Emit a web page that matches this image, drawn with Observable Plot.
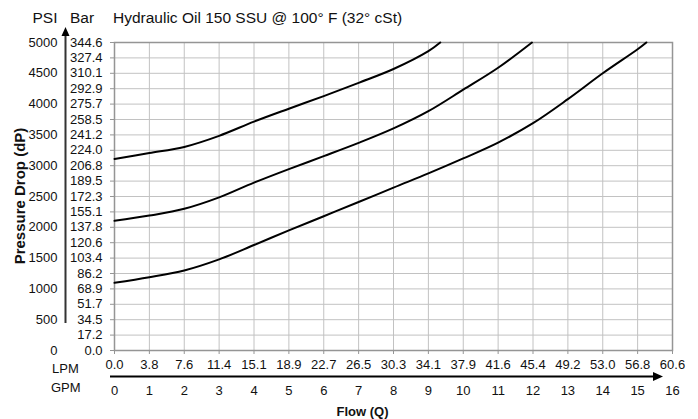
<!DOCTYPE html>
<html><head><meta charset="utf-8">
<script src="https://cdn.jsdelivr.net/npm/d3@7"></script>
<script src="https://cdn.jsdelivr.net/npm/@observablehq/plot@0.6"></script>
<style>
html,body{margin:0;padding:0;background:#fff;}
svg text{font-family:"Liberation Sans",Arial,sans-serif;}
</style>
</head><body><div id="chart"></div>
<script>
// ---- data ----
const titleText = "Hydraulic Oil 150 SSU @ 100° F (32° cSt)";
const yTitle = "Pressure Drop (dP)";
const xTitle = "Flow (Q)";
const gpmTicks = d3.range(0, 17);
const lpmLabels = ["0.0","3.8","7.6","11.4","15.1","18.9","22.7","26.5","30.3","34.1","37.9","41.6","45.4","49.2","53.0","56.8","60.6"];
const psiTicks = d3.range(0, 5001, 500);
const psiGrid = d3.range(0, 5001, 250);
const barLabels = ["0.0","17.2","34.5","51.7","68.9","86.2","103.4","120.6","137.8","155.1","172.3","189.5","206.8","224.0","241.2","258.5","275.7","292.9","310.1","327.4","344.6"];

const highGpm = [0, 1, 2, 3, 4, 5, 6, 7, 8, 9, 9.34];
const highPsi = [3110, 3205, 3305, 3485, 3715, 3925, 4130, 4345, 4570, 4860, 5000];
const midGpm = [0, 1, 2, 3, 4, 5, 6, 7, 8, 9, 10, 11, 11.97];
const midPsi = [2105, 2190, 2300, 2485, 2725, 2945, 3155, 3370, 3605, 3885, 4234, 4590, 5000];
const lowGpm = [0, 1, 2, 3, 4, 5, 6, 7, 8, 9, 10, 11, 12, 13, 14, 15, 15.25];
const lowPsi = [1100, 1190, 1300, 1480, 1712, 1950, 2180, 2410, 2645, 2875, 3118, 3375, 3690, 4080, 4500, 4890, 5000];

const rows = [
  ...highGpm.map((g, i) => ({series: "high", gpm: g, psi: highPsi[i]})),
  ...midGpm.map((g, i) => ({series: "mid", gpm: g, psi: midPsi[i]})),
  ...lowGpm.map((g, i) => ({series: "low", gpm: g, psi: lowPsi[i]}))
];

const font = "Liberation Sans, Arial, sans-serif";
const chart = Plot.plot({
  width: 698, height: 419,
  marginLeft: 114, marginRight: 26, marginTop: 42, marginBottom: 69,
  style: {fontFamily: font, fontSize: "13px", color: "#111", background: "#fff", overflow: "visible"},
  x: {domain: [0, 16], label: null},
  y: {domain: [0, 5000], label: null},
  marks: [
    Plot.ruleX(gpmTicks, {stroke: "#c2c2c2", strokeWidth: 1}),
    Plot.ruleY(psiGrid, {stroke: "#c2c2c2", strokeWidth: 1}),
    Plot.frame({stroke: "#959595", strokeWidth: 1.5}),
    Plot.axisY(psiGrid, {anchor: "left", tickSize: 4, tickPadding: 8, tickFormat: d => barLabels[Math.round(d / 250)], stroke: "#959595", fill: "#111", label: null}),
    Plot.axisY(psiTicks, {anchor: "left", tickSize: 0, tickPadding: 57, tickFormat: d => String(d), fill: "#111", label: null}),
    Plot.axisX(gpmTicks, {anchor: "bottom", tickSize: 4, tickPadding: 5, tickFormat: d => lpmLabels[d], stroke: "#959595", fill: "#111", label: null}),
    Plot.axisX(gpmTicks, {anchor: "bottom", tickSize: 0, tickPadding: 35, tickFormat: d => String(d), fill: "#111", label: null}),
    Plot.line(rows, {x: "gpm", y: "psi", z: "series", stroke: "#000", strokeWidth: 2, curve: "catmull-rom"})
  ]
});
document.getElementById("chart").appendChild(chart);

// ---- decorations derived from the scales ----
const sx = chart.scale("x"), sy = chart.scale("y");
const svg = d3.select(chart);
const x0 = sx.apply(0), x16 = sx.apply(16), y0 = sy.apply(0), yTop = sy.apply(5000);
const ann = svg.append("g").attr("fill", "#111").attr("text-anchor", "start").style("font-family", font);

ann.append("text").attr("x", x0 - 1).attr("y", 22.5).attr("font-size", 15.5).text(titleText);
ann.append("text").attr("x", 32.5).attr("y", 22.5).attr("font-size", 15.5).text("PSI");
ann.append("text").attr("x", 70).attr("y", 22.5).attr("font-size", 15.5).text("Bar");
ann.append("text").attr("x", 52).attr("y", y0 + 22.8).attr("font-size", 13).text("LPM");
ann.append("text").attr("x", 51).attr("y", y0 + 41.6).attr("font-size", 13).text("GPM");
ann.append("text").attr("x", 362.5).attr("y", y0 + 65.5).attr("font-size", 13).attr("font-weight", "bold").attr("text-anchor", "middle").text(xTitle);
ann.append("text").attr("transform", `translate(25,${(y0 + yTop) / 2}) rotate(-90)`).attr("font-size", 15).attr("font-weight", "bold").attr("text-anchor", "middle").text(yTitle);

// vertical arrow
const ax = x0 - 48.5;
svg.append("line").attr("x1", ax).attr("x2", ax).attr("y1", sy.apply(440)).attr("y2", yTop - 7).attr("stroke", "#333").attr("stroke-width", 2);
svg.append("path").attr("d", `M${ax - 4},${yTop - 6}L${ax},${yTop - 15}L${ax + 4},${yTop - 6}Z`).attr("fill", "#000");
// horizontal arrow
const ay = y0 + 26.5;
svg.append("line").attr("x1", x0 - 4).attr("x2", x16 - 14).attr("y1", ay).attr("y2", ay).attr("stroke", "#000").attr("stroke-width", 2);
svg.append("path").attr("d", `M${x16 - 19},${ay - 4.5}L${x16 - 9},${ay}L${x16 - 19},${ay + 4.5}Z`).attr("fill", "#000");
</script>
</body></html>
